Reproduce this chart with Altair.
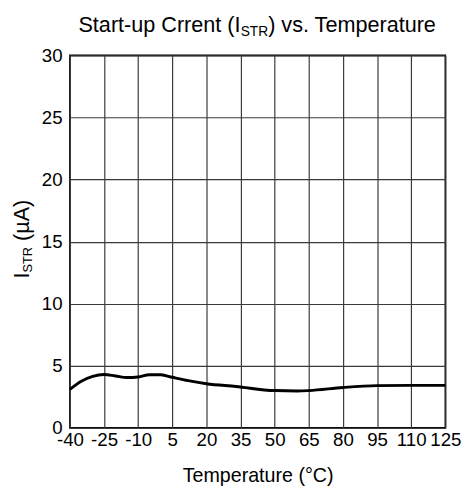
import altair as alt
import pandas as pd

# ---- data ----
temps = [-40, -35, -30, -25, -20, -15, -10, -5, 0, 5, 12, 20, 33, 50, 60, 65, 80, 95, 110, 125]
istr = [3.1, 3.75, 4.15, 4.3, 4.18, 4.05, 4.1, 4.28, 4.27, 4.07, 3.8, 3.55, 3.33, 3.0, 2.97, 3.0, 3.25, 3.4, 3.42, 3.42]
x_ticks = [-40, -25, -10, 5, 20, 35, 50, 65, 80, 95, 110, 125]
y_ticks = [0, 5, 10, 15, 20, 25, 30]

title_parts = ["Start-up Crrent (I", "STR", ") vs. Temperature"]
ytitle_parts = ["I", "STR", "(µA)"]
x_title = "Temperature (°C)"

FONT = "Liberation Sans"
W_PLOT, H_PLOT = 382, 379

# Arial / Liberation Sans advance widths (em)
ADV = {'S': .667, 't': .278, 'a': .556, 'r': .333, '-': .333, 'u': .556, 'p': .556, ' ': .278,
       'C': .722, 'e': .556, 'n': .556, '(': .333, 'I': .278, 'T': .611, 'R': .722, ')': .333,
       'v': .5, 's': .5, '.': .278, 'm': .833, 'µ': .576, 'A': .667}


def text_w(s, size):
    return sum(ADV.get(c, .556) for c in s) * size


df = pd.DataFrame({"T": temps, "I": istr})

line = alt.Chart(df).mark_line(color="black", strokeWidth=3, interpolate="monotone").encode(
    x=alt.X("T:Q", scale=alt.Scale(domain=[-40, 125], nice=False, zero=False),
            axis=alt.Axis(values=x_ticks, title=x_title, grid=True, ticks=False, domain=False,
                          labelExpr="'' + datum.value",
                          labelFontSize=19, labelPadding=3, labelFlush=False, labelOverlap=False,
                          titleFontSize=20, titleFontWeight="normal", titlePadding=17,
                          gridColor="#3a3a3a", gridWidth=1.2, labelColor="black", titleColor="black")),
    y=alt.Y("I:Q", scale=alt.Scale(domain=[0, 30], nice=False),
            axis=alt.Axis(values=y_ticks, title=None, grid=True, ticks=False, domain=False,
                          labelFontSize=19, labelPadding=8, labelOverlap=False, labelFlush=False,
                          gridColor="#3a3a3a", gridWidth=1.2, labelColor="black")),
)

layers = [line]

# ---- title with subscript ----
TF, TS = 22, 14
w1 = text_w(title_parts[0], TF)
w2 = text_w(title_parts[1], TS)
w3 = text_w(title_parts[2], TF)
cx = 263 - 71
x0 = cx - (w1 + w2 + w3) / 2
base_y = 28 - 52
for txt, xx, yy, fs in [(title_parts[0], x0, base_y, TF),
                        (title_parts[1], x0 + w1, base_y + 4, TS),
                        (title_parts[2], x0 + w1 + w2, base_y, TF)]:
    layers.append(
        alt.Chart(pd.DataFrame({"t": [txt]})).mark_text(
            align="left", baseline="alphabetic", font=FONT, fontSize=fs, color="black"
        ).encode(x=alt.value(xx), y=alt.value(yy), text="t:N")
    )

# ---- y-axis title with subscript (rotated) ----
YF, YS = 22, 13
v1 = text_w(ytitle_parts[0], YF)
v2 = text_w(ytitle_parts[1], YS)
gap = text_w(" ", YF)
v3 = text_w(ytitle_parts[2], YF)
cy = 239 - 52
y0 = cy + (v1 + v2 + gap + v3) / 2
base_x = 29 - 71
for txt, xx, yy, fs in [(ytitle_parts[0], base_x, y0, YF),
                        (ytitle_parts[1], base_x + 3, y0 - v1, YS),
                        (ytitle_parts[2], base_x, y0 - v1 - v2 - gap, YF)]:
    layers.append(
        alt.Chart(pd.DataFrame({"t": [txt]})).mark_text(
            align="left", baseline="alphabetic", font=FONT, fontSize=fs, color="black", angle=270
        ).encode(x=alt.value(xx), y=alt.value(yy), text="t:N")
    )

chart = alt.layer(*layers).properties(
    width=W_PLOT, height=H_PLOT,
    autosize=alt.AutoSizeParams(type="none"),
    padding={"left": 63, "top": 44, "right": 19, "bottom": 57},
    background="white",
).configure(font=FONT).configure_view(stroke="black", strokeWidth=1.6)

chart.save("out.html", embed_options={"renderer": "svg", "actions": False})
